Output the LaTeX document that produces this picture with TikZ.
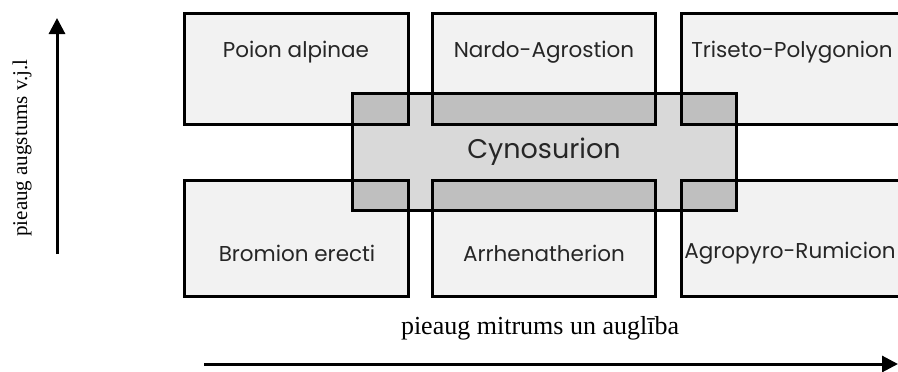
\documentclass[tikz,border=0pt]{standalone}
\usepackage{fontspec}
\setmainfont{Liberation Serif}
\newfontfamily\boxfont{Poppins}
\usetikzlibrary{arrows.meta}
\definecolor{boxfill}{HTML}{F2F2F2}
\definecolor{cynfill}{HTML}{D9D9D9}
\definecolor{ovfill}{HTML}{BFBFBF}
\tikzset{
  alliance/.style={draw=none, fill=boxfill, minimum width=#1, minimum height=111pt, inner sep=0pt, anchor=north west},
  cyn/.style={draw=none, fill=cynfill, minimum width=384pt, minimum height=117pt, inner sep=0pt, anchor=north west},
  frame/.style={draw=black, line width=3pt},
  lbl/.style={font=\boxfont\fontsize{21.5}{24}\selectfont, text=black!85},
  axis/.style={line width=3pt, -{Triangle[length=16pt,width=16pt]}},
  axlbl/.style={font=\fontsize{26}{28}\selectfont}
}
\begin{document}
\begin{tikzpicture}[x=1pt,y=-1pt]
\useasboundingbox (0,0) rectangle (898,372);
% fills
\node[alliance=224pt] (pa) at (184,13) {};
\node[alliance=223pt] (na) at (432,13) {};
\node[alliance=230pt] (tp) at (681,13) {};
\node[alliance=224pt, minimum height=116pt] (be) at (184,180) {};
\node[alliance=223pt, minimum height=116pt] (ar) at (432,180) {};
\node[alliance=230pt, minimum height=116pt] (ag) at (681,180) {};
\node[cyn] (cy) at (352,93) {};
% overlaps
\fill[ovfill] (352,93) rectangle (408,124);
\fill[ovfill] (432,93) rectangle (655,124);
\fill[ovfill] (681,93) rectangle (736,124);
\fill[ovfill] (352,180) rectangle (408,210);
\fill[ovfill] (432,180) rectangle (655,210);
\fill[ovfill] (681,180) rectangle (736,210);
% frames
\foreach \n in {pa,na,tp,be,ar,ag,cy} \draw[frame] (\n.north west) rectangle (\n.south east);
% labels
\node[lbl] at (296,52) {Poion alpinae};
\node[lbl] at (544,52) {Nardo-Agrostion};
\node[lbl] at (792,52) {Triseto-Polygonion};
\node[font=\boxfont\fontsize{27}{30}\selectfont, text=black!85] (cyl) at (544,152) {Cynosurion};
\node[lbl] at (297,253) {Bromion erecti};
\node[lbl] at (544,253) {Arrhenatherion};
\node[lbl] at (790,253) {Agropyro-Rumicion};
% axes
\coordinate (vb) at (57,254);
\coordinate (vt) at (57,18);
\draw[axis] (vb) -- (vt);
\node[axlbl, font=\fontsize{21}{23}\selectfont, rotate=90] (vl) at (22,148) {pieaug augstums v.j.l};
\coordinate (hl) at (204,364);
\coordinate (hr) at (898,364);
\draw[axis] (hl) -- (hr);
\node[axlbl] (hlbl) at (540,328) {pieaug mitrums un auglība};
\end{tikzpicture}
\end{document}
